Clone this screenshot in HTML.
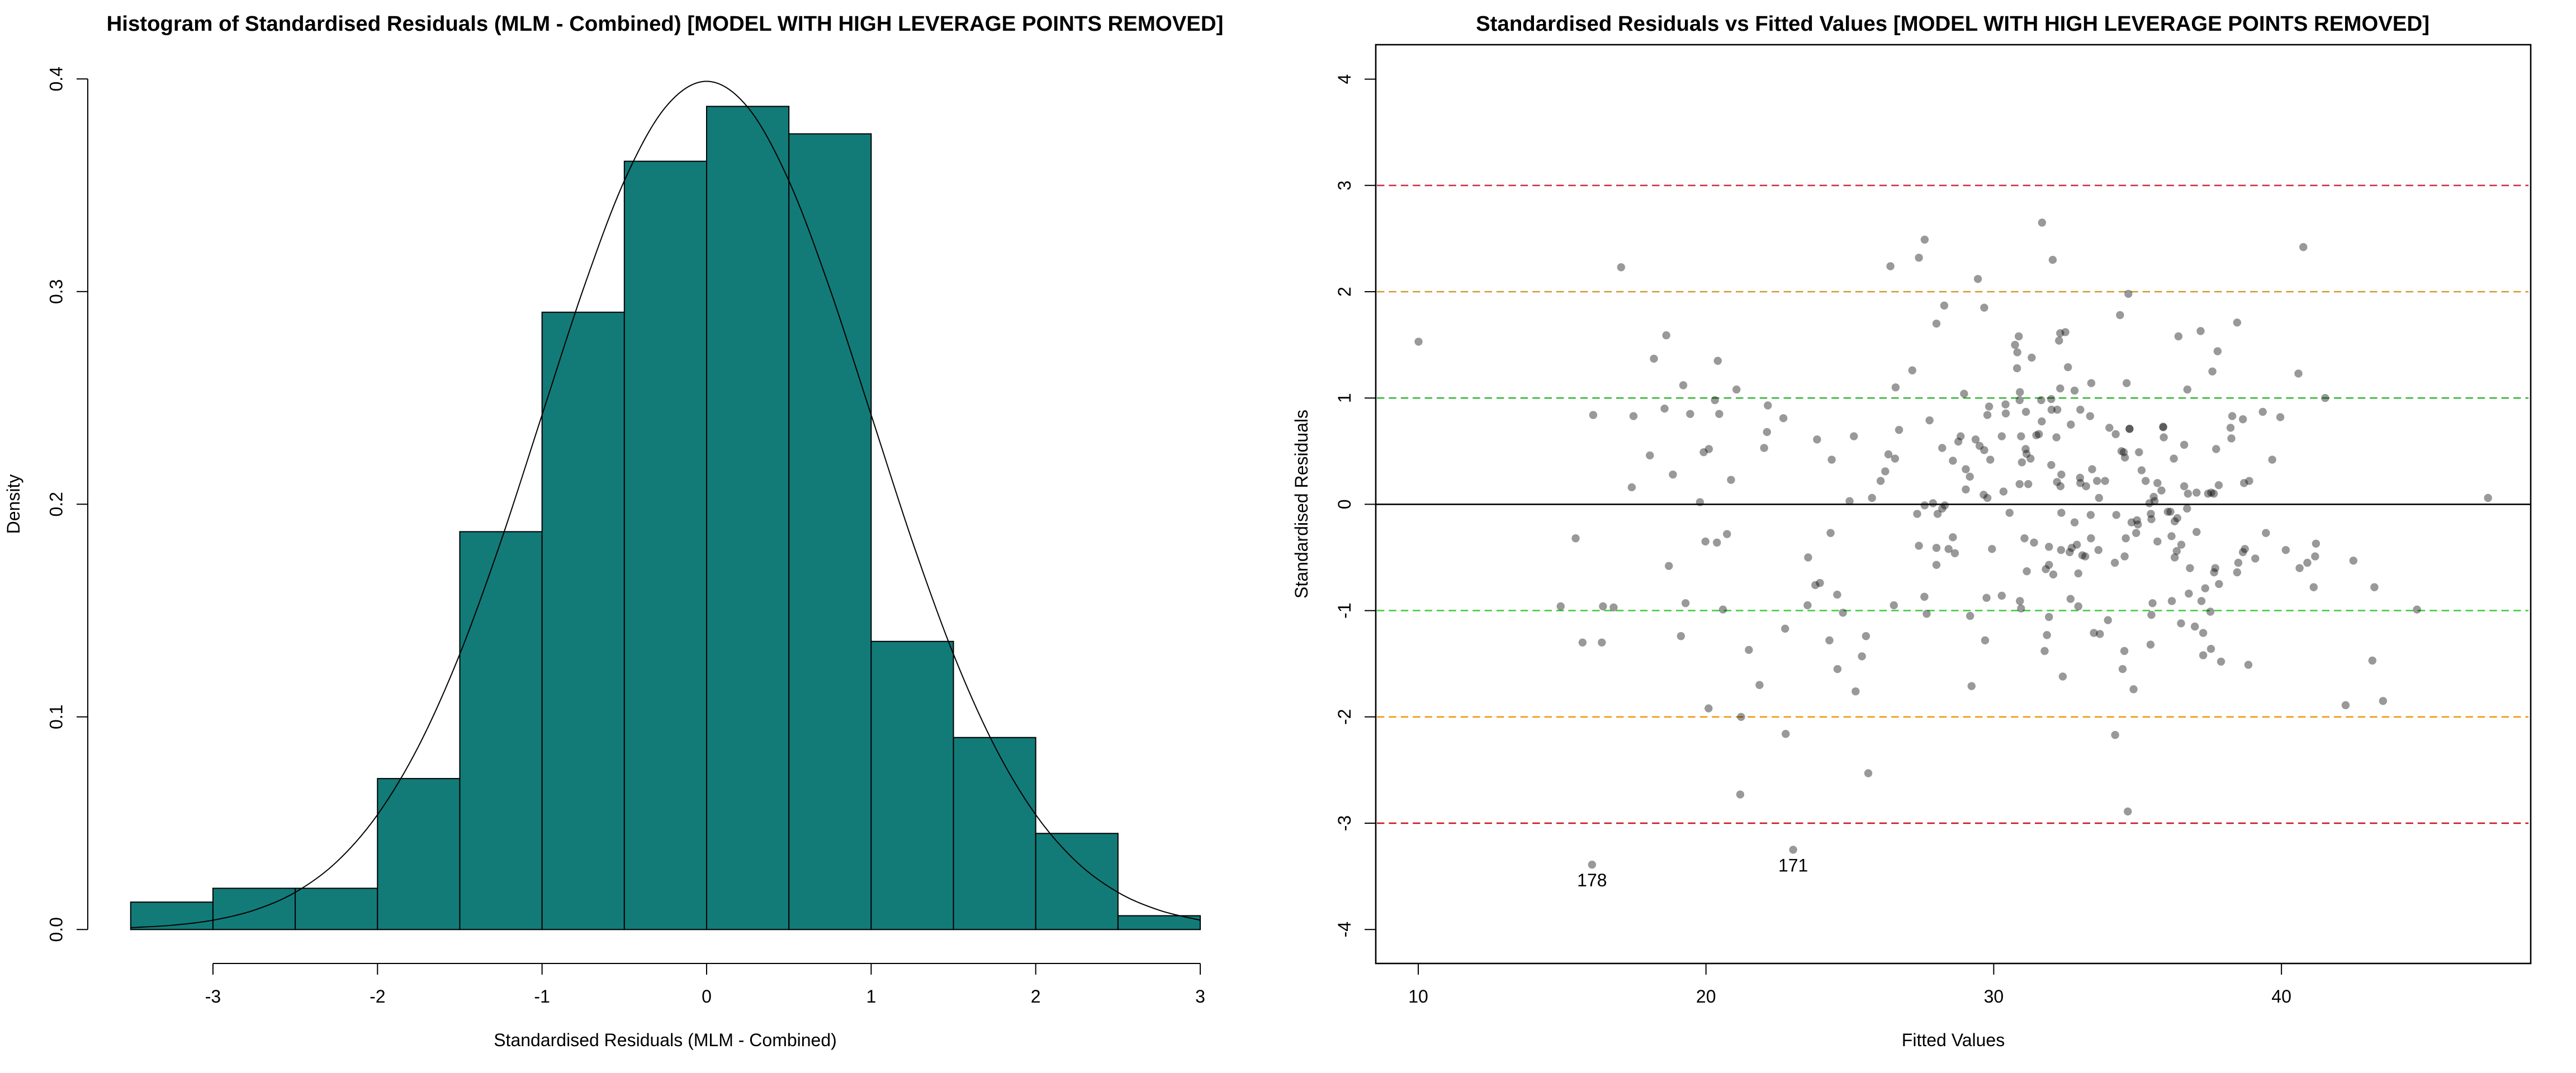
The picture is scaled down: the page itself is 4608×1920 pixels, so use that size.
<!DOCTYPE html>
<html lang="en">
<head>
<meta charset="utf-8">
<title>Standardised Residuals Diagnostics</title>
<style>
html,body{margin:0;padding:0;background:#fff;}
svg{display:block;}
text{font-family:"Liberation Sans",Arial,sans-serif;fill:#000;}
</style>
</head>
<body>
<svg id="chart" xmlns="http://www.w3.org/2000/svg" width="4608" height="1920" viewBox="0 0 4608 1920">
  <rect x="0" y="0" width="4608" height="1920" fill="#ffffff"/>
  <g id="hist-panel">
    <text x="1189.5" y="55" text-anchor="middle" font-size="38.4" font-weight="bold">Histogram of Standardised Residuals (MLM - Combined) [MODEL WITH HIGH LEVERAGE POINTS REMOVED]</text>
    <text x="1190" y="1872" text-anchor="middle" font-size="32">Standardised Residuals (MLM - Combined)</text>
    <text transform="translate(35,902) rotate(-90)" text-anchor="middle" font-size="32">Density</text>
    <g id="hist-bars"></g>
    <path id="hist-curve" fill="none" stroke="#000" stroke-width="2"/>
    <g id="hist-x-axis"></g>
    <g id="hist-y-axis"></g>
  </g>
  <g id="scatter-panel">
    <text x="3493" y="55" text-anchor="middle" font-size="38.4" font-weight="bold">Standardised Residuals vs Fitted Values [MODEL WITH HIGH LEVERAGE POINTS REMOVED]</text>
    <text x="3494" y="1872" text-anchor="middle" font-size="32">Fitted Values</text>
    <text transform="translate(2339,902) rotate(-90)" text-anchor="middle" font-size="32">Standardised Residuals</text>
    <g id="ref-lines"></g>
    <g id="points"></g>
    <g id="point-labels"></g>
    <rect x="2461" y="80" width="2066" height="1644" fill="none" stroke="#000" stroke-width="2.6"/>
    <g id="scatter-x-axis"></g>
    <g id="scatter-y-axis"></g>
  </g>
</svg>
<script>
// Histogram data
var binEdges = [-3.5,-3,-2.5,-2,-1.5,-1,-0.5,0,0.5,1,1.5,2,2.5,3];
var binDensity = [0.0129,0.0194,0.0194,0.0710,0.1871,0.2903,0.3613,0.3871,0.3742,0.1355,0.0903,0.0452,0.0065];
var curveX = [-3.5,-3.25,-3,-2.75,-2.5,-2.25,-2,-1.75,-1.5,-1.25,-1,-0.75,-0.5,-0.25,0,0.25,0.5,0.75,1,1.25,1.5,1.75,2,2.25,2.5,2.75,3];
var curveY = [0.0009,0.0020,0.0044,0.0091,0.0175,0.0317,0.0540,0.0863,0.1295,0.1826,0.2420,0.3011,0.3521,0.3867,0.3989,0.3867,0.3521,0.3011,0.2420,0.1826,0.1295,0.0863,0.0540,0.0317,0.0175,0.0091,0.0044];
var histXTicks = [-3,-2,-1,0,1,2,3];
var histYTicks = [0,0.1,0.2,0.3,0.4];
var histYTickLabels = ["0.0","0.1","0.2","0.3","0.4"];

// Scatter data
var scatterXTicks = [10,20,30,40];
var scatterYTicks = [-4,-3,-2,-1,0,1,2,3,4];
var refLevels = [3,2,1,0,-1,-2,-3];
var refColors = ["#cc3344","#cc9933","#3ab53a","#000000","#44cc44","#ee9911","#c8101c"];
var outlierLabels = ["178","171"];
var outlierFitted = [16.04,23.03];
var outlierResidual = [-3.39,-3.25];
var fittedValues = [
10.01,17.05,18.62,18.19,20.41,19.21,21.06,20.31,16.08,17.48,18.56,19.45,20.46,22.15,22.69,22.12,18.05,19.92,20.10,22.02,18.85,20.87,17.42,19.79,
23.86,25.14,24.37,24.99,25.77,26.07,26.23,26.34,26.57,26.71,26.59,27.17,26.41,27.40,27.60,27.77,27.34,27.60,27.89,24.33,20.73,15.47,
31.68,40.76,32.05,29.45,34.68,28.28,29.67,28.01,34.39,38.46,37.19,36.42,30.87,32.31,32.49,32.27,30.74,30.82,37.78,31.32,32.58,30.81,37.60,40.59,
33.39,34.62,32.31,32.81,36.73,30.91,28.97,41.52,30.90,31.65,32.00,30.41,29.84,32.01,32.21,33.01,31.12,30.42,29.78,33.35,39.35,39.96,38.29,38.66,
31.67,32.68,38.23,34.02,34.72,34.72,35.89,35.89,34.24,31.57,31.48,30.28,30.95,28.85,32.18,35.91,38.26,28.77,29.37,29.51,36.62,28.21,29.67,31.11,37.73,
34.44,34.52,35.05,31.14,31.28,34.56,36.26,39.68,29.88,28.58,30.98,32.00,29.03,33.42,35.14,32.35,29.17,33.00,33.59,33.87,35.28,32.20,33.01,35.69,30.90,31.20,
33.21,32.32,36.62,37.82,38.70,38.88,29.03,30.34,35.83,36.75,37.05,37.45,37.56,37.65,29.65,29.78,33.66,35.56,47.18,35.59,35.41,28.30,28.21,28.05,36.72,
30.55,32.35,33.37,34.26,36.05,36.14,35.46,35.48,36.38,36.29,34.98,34.79,35.01,32.81,34.95,37.05,39.46,36.18,28.58,31.07,33.38,34.59,
28.01,28.43,28.65,29.94,28.01,31.40,31.92,32.34,32.64,32.71,32.89,33.08,33.18,33.64,34.21,34.55,35.69,36.52,36.36,36.29,36.82,38.66,38.73,39.09,40.15,41.20,41.17,40.90,40.63,
38.50,38.46,37.70,37.66,37.83,37.35,36.78,36.19,37.22,35.52,37.53,35.48,36.51,36.99,37.28,35.45,37.55,37.28,37.90,38.85,34.54,34.48,34.86,41.12,42.50,43.23,44.71,43.16,43.53,42.23,34.22,34.66,
31.15,31.81,31.92,32.07,32.94,29.75,30.28,30.91,30.95,32.67,32.94,29.18,31.92,33.97,33.48,33.69,31.85,29.70,31.77,32.40,29.23,
19.98,20.38,18.71,23.55,23.80,23.96,24.56,27.40,27.59,27.67,14.95,16.42,16.79,19.29,20.59,23.53,24.76,26.53,15.71,16.38,19.13,22.75,24.29,25.56,21.49,25.42,24.57,21.86,25.20,20.09,21.22,22.77,25.64,21.19,23.03,16.04
];
var residualValues = [
1.53,2.23,1.59,1.37,1.35,1.12,1.08,0.98,0.84,0.83,0.90,0.85,0.85,0.93,0.81,0.68,0.46,0.49,0.52,0.53,0.28,0.23,0.16,0.02,
0.61,0.64,0.42,0.03,0.06,0.22,0.31,0.47,0.43,0.70,1.10,1.26,2.24,2.32,2.49,0.79,-0.09,-0.01,0.01,-0.27,-0.28,-0.32,
2.65,2.42,2.30,2.12,1.98,1.87,1.85,1.70,1.78,1.71,1.63,1.58,1.58,1.61,1.62,1.54,1.50,1.43,1.44,1.38,1.29,1.28,1.25,1.23,
1.14,1.14,1.09,1.07,1.08,1.055,1.04,1.00,0.98,0.98,0.99,0.94,0.92,0.89,0.89,0.89,0.87,0.855,0.84,0.83,0.87,0.82,0.83,0.80,
0.78,0.75,0.72,0.72,0.71,0.71,0.73,0.725,0.66,0.66,0.65,0.64,0.64,0.64,0.63,0.63,0.62,0.59,0.61,0.55,0.56,0.53,0.51,0.52,0.52,
0.50,0.49,0.49,0.475,0.43,0.44,0.43,0.42,0.42,0.41,0.395,0.37,0.33,0.33,0.32,0.28,0.26,0.25,0.22,0.22,0.22,0.21,0.20,0.20,0.19,0.19,
0.17,0.17,0.17,0.18,0.20,0.22,0.14,0.12,0.13,0.10,0.11,0.10,0.11,0.10,0.09,0.06,0.06,0.07,0.06,0.03,0.01,-0.01,-0.04,-0.09,-0.04,
-0.08,-0.08,-0.10,-0.10,-0.07,-0.07,-0.09,-0.14,-0.13,-0.16,-0.15,-0.17,-0.19,-0.17,-0.27,-0.26,-0.27,-0.30,-0.31,-0.32,-0.32,-0.32,
-0.41,-0.42,-0.46,-0.42,-0.57,-0.36,-0.40,-0.43,-0.45,-0.41,-0.38,-0.48,-0.49,-0.43,-0.55,-0.49,-0.35,-0.38,-0.44,-0.50,-0.60,-0.45,-0.42,-0.51,-0.43,-0.37,-0.49,-0.55,-0.60,
-0.55,-0.64,-0.60,-0.64,-0.75,-0.79,-0.84,-0.91,-0.91,-0.93,-1.01,-1.04,-1.12,-1.15,-1.21,-1.32,-1.36,-1.42,-1.48,-1.51,-1.38,-1.55,-1.74,-0.78,-0.53,-0.78,-0.99,-1.47,-1.85,-1.89,-2.17,-2.89,
-0.63,-0.61,-0.57,-0.66,-0.65,-0.88,-0.86,-0.91,-0.98,-0.89,-0.96,-1.05,-1.06,-1.09,-1.21,-1.22,-1.23,-1.28,-1.38,-1.62,-1.71,
-0.35,-0.36,-0.58,-0.50,-0.76,-0.74,-0.85,-0.39,-0.87,-1.03,-0.96,-0.96,-0.97,-0.93,-0.99,-0.95,-1.02,-0.95,-1.30,-1.30,-1.24,-1.17,-1.28,-1.24,-1.37,-1.43,-1.55,-1.70,-1.76,-1.92,-2.00,-2.16,-2.53,-2.73,-3.25,-3.39
];

// Axis functions
function histX(v){return 1264+v*294.35;}
function histY(v){return 1663.3-v*3805;}
function scatX(v){return 2537+(v-10)*51.47;}
function scatY(v){return 902.4-v*190.2;}

var NS="http://www.w3.org/2000/svg";
function mk(tag,parent){var e=document.createElementNS(NS,tag);parent.appendChild(e);return e;}
function setA(e,o){for(var k in o){e.setAttribute(k,o[k]);}}
function $(id){return document.getElementById(id);}

// Histogram bars
var barsG=$("hist-bars");
binDensity.forEach(function(d,i){
  var r=mk("rect",barsG);
  setA(r,{x:histX(binEdges[i]),y:histY(d),width:histX(binEdges[i+1])-histX(binEdges[i]),height:histY(0)-histY(d),fill:"#127b78",stroke:"#000","stroke-width":2});
  
  
});

// Normal curve (smooth path through the curve arrays)
(function(){
  var p=curveX.map(function(x,i){return [histX(x),histY(curveY[i])];});
  var d="M"+p[0][0].toFixed(2)+" "+p[0][1].toFixed(2);
  for(var i=0;i<p.length-1;i++){
    var a=p[Math.max(i-1,0)],b=p[i],c=p[i+1],e=p[Math.min(i+2,p.length-1)];
    d+=" C"+(b[0]+(c[0]-a[0])/6).toFixed(2)+" "+(b[1]+(c[1]-a[1])/6).toFixed(2)+" "+
        (c[0]-(e[0]-b[0])/6).toFixed(2)+" "+(c[1]-(e[1]-b[1])/6).toFixed(2)+" "+c[0].toFixed(2)+" "+c[1].toFixed(2);
  }
  $("hist-curve").setAttribute("d",d);
})();

// Histogram x axis
var hxG=$("hist-x-axis");
var hxLine=mk("line",hxG);
setA(hxLine,{x1:histX(histXTicks[0]),x2:histX(histXTicks[histXTicks.length-1]),y1:1724,y2:1724,stroke:"#000","stroke-width":2});


histXTicks.forEach(function(v){
  var t=mk("line",hxG);
  setA(t,{x1:histX(v),x2:histX(v),y1:1724,y2:1744,stroke:"#000","stroke-width":2});
  
  
  var l=mk("text",hxG);
  setA(l,{x:histX(v),y:1794,"text-anchor":"middle","font-size":32});
  l.textContent=String(v);
  
  
});

// Histogram y axis
var hyG=$("hist-y-axis");
var hyLine=mk("line",hyG);
setA(hyLine,{x1:157,x2:157,y1:histY(histYTicks[0]),y2:histY(histYTicks[histYTicks.length-1]),stroke:"#000","stroke-width":2});


histYTicks.forEach(function(v,i){
  var t=mk("line",hyG);
  setA(t,{x1:137,x2:157,y1:histY(v),y2:histY(v),stroke:"#000","stroke-width":2});
  
  
  var l=mk("text",hyG);
  setA(l,{transform:"translate(111.5,"+histY(v)+") rotate(-90)","text-anchor":"middle","font-size":32});
  l.textContent=histYTickLabels[i];
  
  
});

// Reference lines
var refG=$("ref-lines");
refLevels.forEach(function(v,i){
  var ln=mk("line",refG);
  var solid=(v===0);
  setA(ln,{x1:solid?2461:2463,x2:solid?4527:4523,y1:scatY(v),y2:scatY(v),stroke:refColors[i],"stroke-width":solid?2.6:2.6});
  if(!solid){ln.setAttribute("stroke-dasharray","13.4 8");}
  
  
});

// Scatter points
var ptG=$("points");
fittedValues.forEach(function(f,i){
  var c=mk("circle",ptG);
  setA(c,{cx:scatX(f).toFixed(2),cy:scatY(residualValues[i]).toFixed(2),r:7.2,fill:"#000","fill-opacity":0.4});
  
  
});

// Outlier labels
var lbG=$("point-labels");
outlierLabels.forEach(function(s,i){
  var l=mk("text",lbG);
  setA(l,{x:scatX(outlierFitted[i]),y:scatY(outlierResidual[i])+39,"text-anchor":"middle","font-size":32});
  l.textContent=s;
  
  
});

// Scatter axes
var sxG=$("scatter-x-axis");
scatterXTicks.forEach(function(v){
  var t=mk("line",sxG);
  setA(t,{x1:scatX(v),x2:scatX(v),y1:1724,y2:1744,stroke:"#000","stroke-width":2});
  
  
  var l=mk("text",sxG);
  setA(l,{x:scatX(v),y:1794,"text-anchor":"middle","font-size":32});
  l.textContent=String(v);
  
  
});
var syG=$("scatter-y-axis");
scatterYTicks.forEach(function(v){
  var t=mk("line",syG);
  setA(t,{x1:2441,x2:2461,y1:scatY(v),y2:scatY(v),stroke:"#000","stroke-width":2});
  
  
  var l=mk("text",syG);
  setA(l,{transform:"translate(2416,"+scatY(v)+") rotate(-90)","text-anchor":"middle","font-size":32});
  l.textContent=String(v);
  
  
});
</script>
</body>
</html>
